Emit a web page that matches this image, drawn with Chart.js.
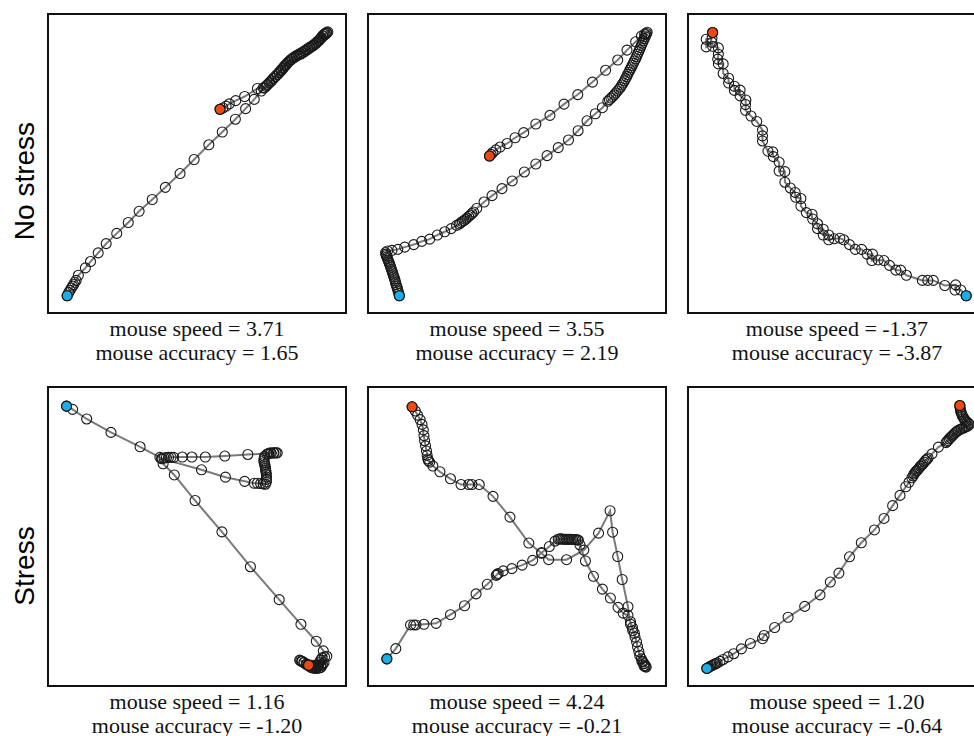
<!DOCTYPE html>
<html>
<head>
<meta charset="utf-8">
<script src="https://cdn.jsdelivr.net/npm/chart.js@4"></script>
<style>
html,body{margin:0;padding:0;width:974px;height:736px;overflow:hidden;background:#fff;}
.panel{position:absolute;width:300px;height:301px;}
.cap{position:absolute;width:300px;text-align:center;font-family:"Liberation Serif","Times New Roman",serif;font-size:22px;line-height:24px;color:#111;white-space:nowrap;}
.rowlab{position:absolute;font-family:"Liberation Sans",Arial,sans-serif;font-size:28px;color:#000;white-space:nowrap;transform:translate(-50%,-50%) rotate(-90deg);}
</style>
</head>
<body>
<script>
// Row labels and caption values
const rowLabels = ["No stress", "Stress"];
const mouseSpeed = [3.71, 3.55, -1.37, 1.16, 4.24, 1.20];
const mouseAccuracy = [1.65, 2.19, -3.87, -1.20, -0.21, -0.64];

// Cursor trajectories (screen units), ordered from start (blue) to end (red)
const noStress1 = [[65,880],[70,870],[74,863],[78,856],[82,850],[85,845],[89,838],[93,832],[100,816],[122,793],[138,773],[162,746],[187,717],[220,685],[256,651],[290,616],[331,579],[372,541],[418,498],[462,454],[508,408],[550,368],[591,328],[623,295],[650,266],[672,240],[682,230],[690,222],[697,215],[704,208],[710,201],[716,195],[722,189],[728,183],[734,177],[740,170],[745,163],[750,157],[756,150],[762,145],[768,140],[775,135],[782,131],[789,127],[796,124],[803,120],[810,115],[817,110],[824,105],[830,101],[836,97],[842,92],[847,87],[852,82],[856,77],[860,72],[864,67],[868,63],[872,60],[876,57],[880,55],[877,59],[872,63],[866,68],[860,74],[854,80],[848,85],[842,90],[836,95],[830,99],[824,103],[818,107],[812,111],[806,115],[800,119],[794,122],[788,126],[782,129],[776,133],[770,137],[764,142],[758,148],[752,154],[746,160],[740,167],[734,174],[728,181],[722,188],[716,194],[710,200],[704,207],[698,213],[692,219],[686,225],[678,230],[660,232],[620,257],[592,270],[572,280],[562,287],[552,293],[543,297]];
const noStress2 = [[103,880],[101,872],[99,865],[97,857],[95,851],[93,845],[91,839],[90,833],[88,827],[86,821],[84,815],[82,809],[80,803],[78,797],[76,791],[74,785],[72,779],[70,774],[68,769],[66,764],[64,759],[62,754],[61,750],[60,745],[66,740],[80,738],[98,735],[120,728],[148,720],[173,710],[198,703],[222,690],[245,680],[265,670],[282,660],[290,656],[295,652],[300,648],[305,645],[310,641],[315,637],[320,632],[325,628],[330,623],[335,618],[345,607],[368,587],[393,567],[424,545],[456,521],[494,493],[530,468],[565,442],[600,417],[632,393],[662,364],[690,333],[716,311],[738,292],[755,272],[760,267],[765,262],[770,257],[775,252],[780,246],[785,240],[790,234],[795,228],[799,221],[803,215],[807,208],[810,202],[814,195],[817,188],[821,181],[824,174],[828,167],[831,160],[835,153],[838,146],[842,139],[845,132],[848,125],[851,118],[854,111],[857,104],[860,97],[863,90],[866,83],[869,76],[872,70],[874,64],[876,60],[878,56],[870,62],[860,68],[842,86],[815,112],[786,143],[748,175],[707,212],[661,251],[618,281],[574,316],[530,343],[492,370],[465,386],[440,404],[418,415],[405,424],[395,432],[390,438],[385,443]];
const noStress3 = [[875,880],[858,862],[840,862],[842,846],[808,848],[772,832],[755,832],[738,832],[688,816],[670,800],[655,800],[635,785],[618,770],[600,768],[580,770],[582,750],[565,750],[548,735],[528,735],[510,720],[492,705],[480,700],[462,702],[445,705],[445,690],[428,690],[428,672],[410,670],[410,655],[395,640],[393,625],[375,620],[358,600],[358,576],[342,572],[340,557],[325,543],[308,525],[308,492],[290,490],[290,462],[272,445],[270,430],[255,428],[238,396],[238,380],[238,362],[220,335],[202,318],[185,300],[185,282],[186,268],[168,255],[168,237],[150,238],[150,225],[132,215],[132,200],[115,185],[115,155],[100,155],[98,140],[100,125],[100,105],[82,100],[80,88],[62,102],[62,78],[80,75],[82,57]];
const stress1 = [[63,68],[82,78],[126,108],[202,150],[293,195],[355,228],[362,232],[368,230],[375,229],[382,228],[390,228],[398,228],[425,227],[455,227],[497,227],[558,224],[630,219],[695,216],[703,215],[712,214],[718,214],[722,214],[710,214],[700,214],[690,218],[682,225],[681,231],[680,238],[681,244],[683,250],[684,256],[685,263],[686,269],[687,275],[688,282],[688,290],[688,297],[688,305],[685,312],[678,311],[670,310],[660,309],[650,309],[620,303],[560,290],[485,267],[360,232],[365,248],[400,283],[465,363],[549,461],[638,570],[728,673],[796,750],[844,803],[866,833],[877,850],[870,852],[862,855],[858,862],[855,868],[851,874],[848,880],[844,885],[840,888],[834,887],[828,885],[820,880],[812,875],[806,870],[800,866],[795,864],[792,862],[798,866],[805,870],[815,874],[825,878],[835,883],[845,888],[852,887],[858,885],[863,878],[868,870],[863,874],[858,878],[850,879],[840,878],[830,878],[820,878]];
const stress2 = [[64,858],[92,826],[138,752],[148,752],[155,752],[180,750],[218,747],[263,720],[307,692],[343,655],[378,625],[406,597],[409,594],[412,591],[428,583],[455,576],[487,565],[520,550],[548,526],[572,507],[590,490],[600,484],[605,483],[610,483],[615,484],[620,484],[625,484],[630,484],[635,484],[640,484],[645,485],[650,485],[655,485],[660,486],[663,487],[668,502],[685,552],[710,600],[738,640],[763,668],[787,697],[803,715],[818,722],[826,742],[832,760],[838,778],[845,805],[852,835],[860,858],[865,868],[868,873],[872,879],[875,884],[872,882],[868,880],[862,866],[855,848],[848,820],[840,790],[833,770],[826,750],[818,695],[800,610],[786,538],[770,462],[762,395],[726,465],[680,518],[626,548],[570,548],[548,528],[508,496],[449,415],[396,350],[353,313],[330,313],[320,313],[296,313],[263,295],[230,273],[208,255],[198,243],[194,238],[192,233],[190,222],[188,208],[185,192],[182,176],[180,160],[178,142],[174,125],[168,110],[160,96],[153,83],[143,70]];
const stress3 = [[64,888],[68,886],[72,883],[76,881],[80,879],[84,877],[88,875],[92,873],[96,871],[105,866],[115,860],[130,852],[148,842],[172,827],[200,810],[238,795],[243,785],[276,760],[318,728],[370,694],[418,658],[450,618],[477,590],[510,539],[547,495],[588,455],[618,419],[645,379],[668,347],[686,320],[696,306],[705,292],[709,286],[712,280],[715,276],[718,272],[721,269],[725,265],[728,261],[732,256],[736,252],[740,248],[744,243],[748,238],[752,234],[756,230],[768,217],[788,196],[812,182],[815,178],[818,175],[822,170],[826,166],[830,162],[834,158],[838,154],[842,150],[846,147],[850,144],[855,141],[860,139],[865,137],[870,135],[875,132],[880,130],[885,125],[882,122],[878,118],[874,114],[870,110],[867,105],[864,100],[862,95],[860,90],[858,85],[857,80],[856,73],[855,66]];

const trajectories = [noStress1, noStress2, noStress3, stress1, stress2, stress3];

const START_COLOR = '#1BADE6';
const END_COLOR = '#EC4A10';

const boxPlugin = {
  id: 'box',
  afterDraw(chart) {
    const c = chart.ctx;
    c.save();
    c.strokeStyle = '#111';
    c.lineWidth = 2;
    c.strokeRect(1, 1, chart.width - 2, chart.height - 2);
    c.restore();
  }
};

const lefts = [47, 367, 687];
const tops = [13, 386];
const yRanges = [[15, 918], [24, 927]];

trajectories.forEach((pts, i) => {
  const col = i % 3, row = Math.floor(i / 3);
  const left = lefts[col], top = tops[row];
  const div = document.createElement('div');
  div.className = 'panel';
  div.style.left = left + 'px';
  div.style.top = top + 'px';
  const cv = document.createElement('canvas');
  cv.width = 300; cv.height = 301;
  cv.style.width = '300px'; cv.style.height = '301px';
  div.appendChild(cv);
  document.body.appendChild(div);

  const cap = document.createElement('div');
  cap.className = 'cap';
  cap.style.left = left + 'px';
  cap.style.top = (top + 301 + 3) + 'px';
  cap.innerHTML = 'mouse speed = ' + mouseSpeed[i].toFixed(2) + '<br>mouse accuracy = ' + mouseAccuracy[i].toFixed(2);
  document.body.appendChild(cap);

  const data = pts.map(p => ({x: p[0], y: p[1]}));
  new Chart(cv, {
    type: 'scatter',
    data: {
      datasets: [
        {
          data: [data[0], data[data.length - 1]],
          showLine: false,
          pointRadius: 5,
          pointBorderWidth: 1.1,
          pointBorderColor: '#111',
          pointBackgroundColor: [START_COLOR, END_COLOR],
          order: 0
        },
        {
          data: data,
          showLine: true,
          borderColor: '#7a7a7a',
          borderWidth: 2,
          tension: 0,
          pointRadius: 5,
          pointBorderWidth: 1.1,
          pointBorderColor: '#1a1a1a',
          pointBackgroundColor: 'rgba(255,255,255,0)',
          order: 1
        }
      ]
    },
    options: {
      responsive: false,
      animation: false,
      devicePixelRatio: 1,
      layout: {padding: 0},
      plugins: {legend: {display: false}, tooltip: {enabled: false}},
      scales: {
        x: {type: 'linear', display: false, min: 21, max: 921},
        y: {type: 'linear', display: false, reverse: true, min: yRanges[row][0], max: yRanges[row][1]}
      }
    },
    plugins: [boxPlugin]
  });
});

rowLabels.forEach((t, r) => {
  const d = document.createElement('div');
  d.className = 'rowlab';
  d.textContent = t;
  d.style.left = '24.5px';
  d.style.top = (r === 0 ? 181 : 566) + 'px';
  document.body.appendChild(d);
});
</script>
</body>
</html>
